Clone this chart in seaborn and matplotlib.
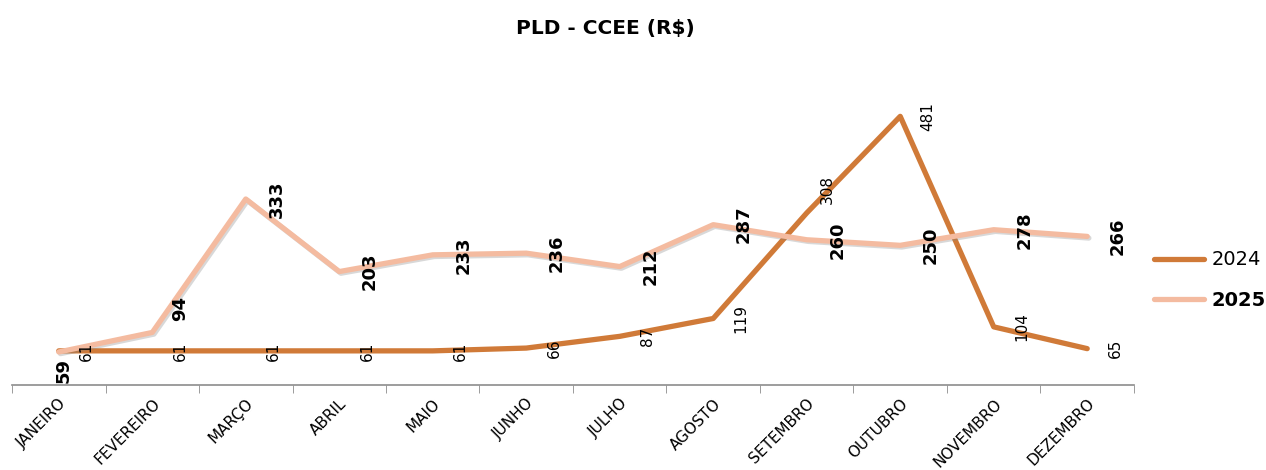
import matplotlib
matplotlib.use("Agg")
import matplotlib.pyplot as plt
import matplotlib.patheffects as pe
import pandas as pd
import seaborn as sns

# ===============================
# DATA
# ===============================
meses = ["JANEIRO", "FEVEREIRO", "MARÇO", "ABRIL", "MAIO", "JUNHO",
         "JULHO", "AGOSTO", "SETEMBRO", "OUTUBRO", "NOVEMBRO", "DEZEMBRO"]
pld_2024 = [61, 61, 61, 61, 61, 66, 87, 119, 308, 481, 104, 65]
pld_2025 = [59, 94, 333, 203, 233, 236, 212, 287, 260, 250, 278, 266]
anos = ["2024", "2025"]

df = pd.DataFrame({
    "mes": meses * 2,
    "pos": list(range(len(meses))) * 2,
    "valor": pld_2024 + pld_2025,
    "ano": [anos[0]] * len(meses) + [anos[1]] * len(meses),
})

cores = {"2024": "#D07A38", "2025": "#F4BBA0"}

# ===============================
# PLOT
# ===============================
sns.set_style("white")
plt.rcParams["font.family"] = ["DejaVu Sans"]
plt.rcParams["text.color"] = "black"
plt.rcParams["xtick.color"] = "black"

fig = plt.figure(figsize=(12.66, 4.7), dpi=100)
ax = fig.add_axes([0.0095, 0.181, 0.8862, 0.594])

sns.lineplot(data=df, x="pos", y="valor", hue="ano", palette=cores,
             linewidth=3.8, sort=False, ax=ax, legend=True)

# sombra na linha de 2025
ax.lines[1].set_path_effects([
    pe.SimpleLineShadow(offset=(1.2, -1.2), shadow_color="gray", alpha=0.3),
    pe.Normal(),
])

ax.set_xlim(-0.5, len(meses) - 0.5)
ax.set_ylim(0, 500)
ax.set_xlabel("")
ax.set_ylabel("")
ax.set_yticks([])
ax.set_xticks(range(len(meses)))
ax.set_xticklabels(meses, rotation=45, ha="right", rotation_mode="anchor",
                   fontsize=11, color="black")
ax.set_xticks([i - 0.5 for i in range(len(meses) + 1)], minor=True)
ax.tick_params(axis="x", which="major", length=0, pad=8)
ax.tick_params(axis="x", which="minor", length=6, color="#8c8c8c",
               direction="out", bottom=True)

for s in ["top", "right", "left"]:
    ax.spines[s].set_visible(False)
ax.spines["bottom"].set_color("#8c8c8c")
ax.spines["bottom"].set_linewidth(1.2)

# rótulos de dados
off_2024 = {8: (15, 17)}
for i, v in enumerate(pld_2024):
    ax.annotate(str(v), (i, v), xytext=off_2024.get(i, (20, 0)),
                textcoords="offset points", rotation=90, ha="center",
                va="center", fontsize=11)

off_2025 = {0: (3.6, -13), 1: (20, 17)}
for i, v in enumerate(pld_2025):
    ax.annotate(str(v), (i, v), xytext=off_2025.get(i, (22, 0)),
                textcoords="offset points", rotation=90, ha="center",
                va="center", fontsize=13, fontweight="bold")

fig.suptitle("PLD - CCEE (R$)", x=0.478, y=0.96, fontsize=14.5,
             fontweight="bold")

leg = ax.legend(loc="center left", bbox_to_anchor=(0.905, 0.404),
                bbox_transform=fig.transFigure, frameon=False, fontsize=14,
                handlelength=2.6, handletextpad=0.4, labelspacing=1.1,
                borderaxespad=0, title=None)
leg.get_texts()[1].set_fontweight("bold")

fig.savefig("out.png", dpi=100)
